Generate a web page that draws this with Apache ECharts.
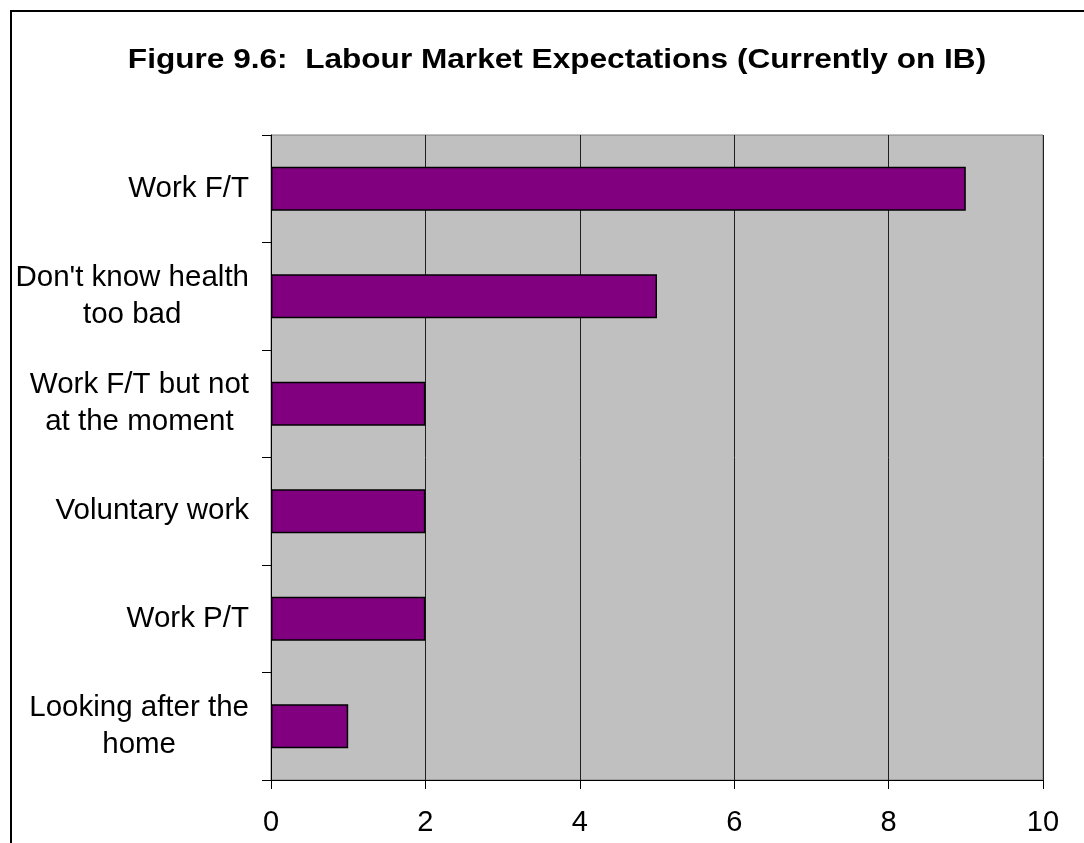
<!DOCTYPE html>
<html>
<head>
<meta charset="utf-8">
<title>Figure 9.6: Labour Market Expectations (Currently on IB)</title>
<script src="https://cdn.jsdelivr.net/npm/echarts@6/dist/echarts.min.js"></script>
<style>
  html, body { margin: 0; padding: 0; background: #fff; }
  #chart { width: 1084px; height: 843px; }
</style>
</head>
<body>
<div id="chart"></div>
<script>
// Categories listed bottom-to-top, as the category axis draws them
const categories = [
  'Looking after the\nhome',
  'Work P/T',
  'Voluntary work',
  'Work F/T but not\nat the moment',
  "Don't know health\ntoo bad",
  'Work F/T'
];
const counts = [1, 2, 2, 2, 5, 9];
const valueTicks = [0, 2, 4, 6, 8, 10];
const titleText = 'Figure 9.6:  Labour Market Expectations (Currently on IB)';

const FONT = '"Liberation Sans", Arial, sans-serif';

const chart = echarts.init(document.getElementById('chart'), null, { renderer: 'canvas' });

chart.setOption({
  backgroundColor: '#ffffff',
  animation: false,
  graphic: [
    {
      // outer frame of the figure
      type: 'rect',
      shape: { x: 11, y: 11, width: 1200, height: 1000 },
      style: { fill: 'none', stroke: '#000', lineWidth: 2 },
      silent: true,
      z: 100
    },
    {
      // heading, slightly widened like the original typeface
      type: 'text',
      x: 557,
      y: 61,
      scaleX: 1.17,
      style: {
        text: titleText,
        fontFamily: FONT,
        fontSize: 27,
        fontWeight: 'bold',
        fill: '#000',
        align: 'center',
        verticalAlign: 'middle'
      },
      silent: true
    }
  ],
  grid: {
    left: 271,
    right: 41,
    top: 135,
    bottom: 63,
    show: true,
    backgroundColor: '#C0C0C0',
    borderColor: '#808080',
    borderWidth: 1
  },
  xAxis: {
    type: 'value',
    min: valueTicks[0],
    max: valueTicks[valueTicks.length - 1],
    interval: valueTicks[1] - valueTicks[0],
    axisLine: { show: true, lineStyle: { color: '#000', width: 1 } },
    axisTick: { show: true, length: 9, lineStyle: { color: '#000' } },
    axisLabel: {
      margin: 28,
      fontFamily: FONT,
      fontSize: 29,
      color: '#000'
    },
    splitLine: { show: true, lineStyle: { color: '#202020', width: 1 } }
  },
  yAxis: {
    type: 'category',
    data: categories,
    axisLine: { show: true, lineStyle: { color: '#000', width: 1 } },
    axisTick: { show: true, length: 9, lineStyle: { color: '#000' } },
    axisLabel: {
      margin: 22,
      fontFamily: FONT,
      fontSize: 29.5,
      lineHeight: 37,
      color: '#000',
      formatter: function (v) {
        return v.split('\n').map(function (l) { return '{c|' + l + '}'; }).join('\n');
      },
      rich: {
        c: { align: 'center', fontFamily: FONT, fontSize: 29.5, lineHeight: 37, color: '#000' }
      }
    },
    splitLine: { show: false }
  },
  series: [{
    type: 'bar',
    data: counts,
    barWidth: 44,
    itemStyle: { color: '#800080', borderColor: '#000', borderWidth: 1.5 },
    label: { show: false }
  }]
});
</script>
</body>
</html>
